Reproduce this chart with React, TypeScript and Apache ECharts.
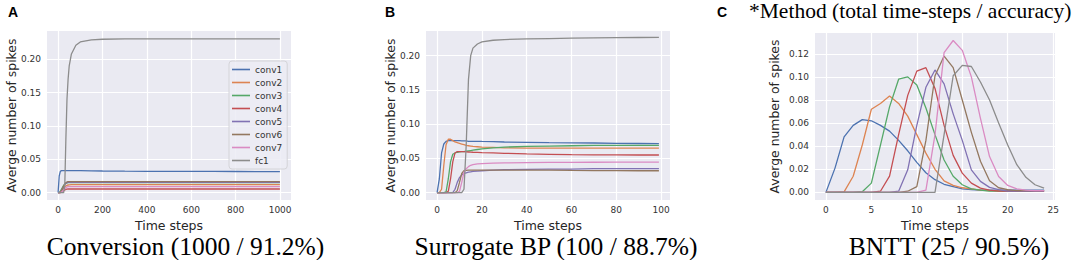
import React, { useEffect, useRef } from "react";
import * as echarts from "echarts";

// ---------- Data ----------
const seriesNames = ["conv1", "conv2", "conv3", "conv4", "conv5", "conv6", "conv7", "fc1"];
const colors = ["#4C72B0", "#DD8452", "#55A868", "#C44E52", "#8172B3", "#937860", "#DA8BC3", "#8C8C8C"];

// Panel A: Conversion (1000 time steps)
const timeA = [0, 5, 10, 15, 20, 25, 30, 35, 40, 45, 50, 60, 80, 100, 150, 200, 300, 400, 500, 600, 700, 800, 900, 999];
const conv1A = [0, 0.025, 0.032, 0.033, 0.033, 0.033, 0.033, 0.033, 0.033, 0.033, 0.033, 0.033, 0.033, 0.033, 0.0328, 0.0325, 0.0322, 0.032, 0.032, 0.0318, 0.0318, 0.0317, 0.0316, 0.0316];
const conv2A = [0, 0, 0.001, 0.003, 0.005, 0.007, 0.009, 0.010, 0.011, 0.0115, 0.0118, 0.012, 0.012, 0.012, 0.012, 0.012, 0.012, 0.012, 0.012, 0.012, 0.012, 0.012, 0.012, 0.012];
const conv3A = [0, 0, 0.002, 0.005, 0.008, 0.011, 0.013, 0.014, 0.0145, 0.015, 0.015, 0.015, 0.015, 0.015, 0.015, 0.015, 0.015, 0.015, 0.015, 0.015, 0.015, 0.015, 0.015, 0.015];
const conv4A = [0, 0, 0, 0.001, 0.002, 0.003, 0.004, 0.0048, 0.0052, 0.0055, 0.0055, 0.0055, 0.0055, 0.0055, 0.0055, 0.0055, 0.0055, 0.0055, 0.0055, 0.0055, 0.0055, 0.0055, 0.0055, 0.0055];
const conv5A = [0, 0, 0.001, 0.003, 0.006, 0.009, 0.012, 0.014, 0.015, 0.0155, 0.0155, 0.0155, 0.0155, 0.0155, 0.0155, 0.0155, 0.0155, 0.0155, 0.0155, 0.0155, 0.0155, 0.0155, 0.0155, 0.0155];
const conv6A = [0, 0, 0.001, 0.003, 0.006, 0.010, 0.013, 0.015, 0.016, 0.0165, 0.0165, 0.0165, 0.0165, 0.0165, 0.0165, 0.0165, 0.0165, 0.0165, 0.0165, 0.0165, 0.0165, 0.0165, 0.0165, 0.0165];
const conv7A = [0, 0, 0, 0.001, 0.002, 0.004, 0.006, 0.0075, 0.0085, 0.009, 0.009, 0.009, 0.009, 0.009, 0.009, 0.009, 0.009, 0.009, 0.009, 0.009, 0.009, 0.009, 0.009, 0.009];
const fc1A = [0, 0, 0, 0, 0, 0, 0.01, 0.08, 0.14, 0.17, 0.19, 0.208, 0.221, 0.226, 0.229, 0.230, 0.2305, 0.2305, 0.2305, 0.2305, 0.2305, 0.2305, 0.2305, 0.2305];

// Panel B: Surrogate BP (100 time steps)
const timeB = [0, 1, 2, 3, 4, 5, 6, 7, 8, 9, 10, 11, 12, 13, 14, 15, 16, 18, 20, 25, 30, 40, 50, 60, 70, 80, 90, 99];
const conv1B = [0, 0.02, 0.058, 0.071, 0.075, 0.076, 0.076, 0.076, 0.076, 0.076, 0.076, 0.0755, 0.0755, 0.0755, 0.075, 0.075, 0.075, 0.075, 0.0748, 0.0745, 0.074, 0.0735, 0.073, 0.0728, 0.0725, 0.072, 0.0718, 0.0715];
const conv2B = [0, 0, 0.005, 0.04, 0.07, 0.078, 0.078, 0.076, 0.074, 0.073, 0.072, 0.071, 0.07, 0.069, 0.0685, 0.068, 0.0675, 0.067, 0.0665, 0.066, 0.0655, 0.065, 0.065, 0.065, 0.065, 0.065, 0.065, 0.065];
const conv3B = [0, 0, 0, 0, 0.001, 0.02, 0.045, 0.056, 0.058, 0.059, 0.0595, 0.06, 0.06, 0.0605, 0.061, 0.0615, 0.062, 0.063, 0.064, 0.0655, 0.0665, 0.0675, 0.068, 0.0685, 0.069, 0.069, 0.069, 0.069];
const conv4B = [0, 0, 0, 0, 0, 0.002, 0.02, 0.045, 0.058, 0.06, 0.06, 0.06, 0.0598, 0.0596, 0.0594, 0.0592, 0.059, 0.0588, 0.0585, 0.058, 0.0575, 0.0565, 0.056, 0.0555, 0.0553, 0.0551, 0.055, 0.055];
const conv5B = [0, 0, 0, 0, 0, 0, 0, 0, 0.005, 0.015, 0.022, 0.026, 0.028, 0.029, 0.03, 0.0305, 0.031, 0.0315, 0.032, 0.033, 0.0335, 0.034, 0.0345, 0.0345, 0.035, 0.035, 0.035, 0.035];
const conv6B = [0, 0, 0, 0, 0, 0, 0, 0, 0, 0.003, 0.015, 0.028, 0.032, 0.0325, 0.033, 0.033, 0.033, 0.033, 0.033, 0.033, 0.033, 0.033, 0.0328, 0.0325, 0.0323, 0.0322, 0.032, 0.032];
const conv7B = [0, 0, 0, 0, 0, 0, 0, 0, 0, 0, 0.002, 0.015, 0.03, 0.035, 0.038, 0.04, 0.041, 0.042, 0.0425, 0.043, 0.0435, 0.044, 0.0442, 0.0443, 0.0444, 0.0445, 0.0445, 0.0445];
const fc1B = [0, 0, 0, 0, 0, 0, 0, 0, 0, 0, 0, 0, 0.005, 0.07, 0.165, 0.2, 0.211, 0.217, 0.22, 0.2225, 0.2235, 0.2245, 0.225, 0.2255, 0.226, 0.2262, 0.2265, 0.2268];

// Panel C: BNTT (25 time steps)
const timeC = [0, 1, 2, 3, 4, 5, 6, 7, 8, 9, 10, 11, 12, 13, 14, 15, 16, 17, 18, 19, 20, 21, 22, 23, 24];
const conv1C = [0, 0.021, 0.048, 0.058, 0.063, 0.062, 0.058, 0.053, 0.045, 0.036, 0.026, 0.017, 0.011, 0.007, 0.005, 0.003, 0.0025, 0.002, 0.002, 0.002, 0.002, 0.002, 0.002, 0.002, 0.002];
const conv2C = [0, 0, 0.0005, 0.014, 0.041, 0.072, 0.077, 0.0835, 0.077, 0.066, 0.05, 0.034, 0.02, 0.01, 0.006, 0.004, 0.003, 0.002, 0.0015, 0.0015, 0.001, 0.001, 0.001, 0.001, 0.001];
const conv3C = [0, 0, 0, 0, 0.0006, 0.008, 0.041, 0.074, 0.098, 0.1, 0.093, 0.073, 0.05, 0.028, 0.014, 0.0066, 0.003, 0.002, 0.001, 0.001, 0.001, 0.001, 0.001, 0.001, 0.001];
const conv4C = [0, 0, 0, 0, 0, 0, 0.001, 0.014, 0.05, 0.084, 0.105, 0.108, 0.09, 0.058, 0.032, 0.0167, 0.008, 0.0037, 0.002, 0.001, 0.001, 0.001, 0.001, 0.001, 0.001];
const conv5C = [0, 0, 0, 0, 0, 0, 0, 0, 0.001, 0.0195, 0.058, 0.091, 0.106, 0.094, 0.068, 0.045, 0.0195, 0.0095, 0.0043, 0.0023, 0.001, 0.001, 0.001, 0.001, 0.001];
const conv6C = [0, 0, 0, 0, 0, 0, 0, 0, 0, 0.001, 0.005, 0.045, 0.101, 0.118, 0.108, 0.08, 0.052, 0.027, 0.01, 0.004, 0.0023, 0.0015, 0.0015, 0.0015, 0.0015];
const conv7C = [0, 0, 0, 0, 0, 0, 0, 0, 0, 0, 0, 0.002, 0.05, 0.121, 0.1315, 0.123, 0.1, 0.064, 0.031, 0.0138, 0.006, 0.003, 0.002, 0.0015, 0.0015];
const fc1C = [0, 0, 0, 0, 0, 0, 0, 0, 0, 0, 0, 0, 0, 0.05, 0.101, 0.11, 0.109, 0.0956, 0.08, 0.06, 0.041, 0.024, 0.013, 0.0066, 0.0037];

// Tick labels
const xTicksA = [0, 200, 400, 600, 800, 1000];
const yTicksA = [0, 0.05, 0.1, 0.15, 0.2];
const xTicksB = [0, 20, 40, 60, 80, 100];
const yTicksB = [0, 0.05, 0.1, 0.15, 0.2];
const xTicksC = [0, 5, 10, 15, 20, 25];
const yTicksC = [0, 0.02, 0.04, 0.06, 0.08, 0.1, 0.12];

const captions = ["Conversion (1000 / 91.2%)", "Surrogate BP (100 / 88.7%)", "BNTT (25 / 90.5%)"];
const headerText = "*Method (total time-steps / accuracy)";
const panelLetters = ["A", "B", "C"];
const yName = "Averge number of spikes";
const xName = "Time steps";

const panelA = [conv1A, conv2A, conv3A, conv4A, conv5A, conv6A, conv7A, fc1A];
const panelB = [conv1B, conv2B, conv3B, conv4B, conv5B, conv6B, conv7B, fc1B];
const panelC = [conv1C, conv2C, conv3C, conv4C, conv5C, conv6C, conv7C, fc1C];

const SANS = "DejaVu Sans";
const SERIF = "Liberation Serif";

function makeX(idx: number, min: number, max: number, ticks: number[]) {
  return {
    type: "value",
    gridIndex: idx,
    min,
    max,
    name: xName,
    nameLocation: "middle",
    nameGap: 15,
    nameTextStyle: { fontFamily: SANS, fontSize: 12.5, lineHeight: 13, color: "#262626" },
    axisLine: { show: false },
    axisTick: { show: false, customValues: ticks },
    axisLabel: {
      customValues: ticks,
      fontFamily: SANS,
      fontSize: 9,
      color: "#333",
      margin: 5,
      formatter: (v: number) => String(v),
    },
    splitLine: { show: true, lineStyle: { color: "#ffffff", width: 1.2 } },
  };
}

function makeY(idx: number, min: number, max: number, ticks: number[], gap: number) {
  return {
    type: "value",
    gridIndex: idx,
    min,
    max,
    name: yName,
    nameLocation: "middle",
    nameGap: gap,
    nameTextStyle: { fontFamily: SANS, fontSize: 12.4, color: "#262626" },
    axisLine: { show: false },
    axisTick: { show: false, customValues: ticks },
    axisLabel: {
      customValues: ticks,
      fontFamily: SANS,
      fontSize: 9,
      color: "#333",
      margin: 6,
      formatter: (v: number) => v.toFixed(2),
    },
    splitLine: { show: true, lineStyle: { color: "#ffffff", width: 1.2 } },
  };
}

function buildSeries(panel: number[][], time: number[], idx: number) {
  return panel.map((vals, i) => ({
    name: seriesNames[i],
    type: "line",
    xAxisIndex: idx,
    yAxisIndex: idx,
    showSymbol: false,
    symbol: "none",
    color: colors[i],
    lineStyle: { width: 1.3, color: colors[i] },
    data: vals.map((v, j) => [time[j], v]),
    z: 2 + i,
  }));
}

export default function App() {
  const ref = useRef<HTMLDivElement>(null);
  useEffect(() => {
    document.body.style.margin = "0";
    if (!ref.current) return;
    const chart = echarts.init(ref.current, undefined, { renderer: "svg" });
    const gridBase = {
      show: true,
      backgroundColor: "#EAEAF2",
      borderWidth: 0,
      containLabel: false,
      outerBoundsMode: "none",
    };
    const caption = (text: string, x: number) => ({
      type: "text",
      x,
      y: 246,
      style: { text, fontFamily: SERIF, fontSize: 25.5, lineHeight: 24, fill: "#000", align: "center", verticalAlign: "middle" },
    });
    const letter = (text: string, x: number) => ({
      type: "text",
      x,
      y: 12,
      style: { text, fontFamily: "Liberation Sans", fontWeight: "bold", fontSize: 14, fill: "#000", align: "left", verticalAlign: "middle" },
    });
    chart.setOption({
      animation: false,
      backgroundColor: "#ffffff",
      grid: [
        { ...gridBase, left: 47, top: 31, width: 244, height: 169 },
        { ...gridBase, left: 426, top: 31, width: 244, height: 169 },
        { ...gridBase, left: 815, top: 33, width: 240, height: 167 },
      ],
      xAxis: [
        makeX(0, -50, 1049, xTicksA),
        makeX(1, -4.95, 103.95, xTicksB),
        makeX(2, -1.2, 25.2, xTicksC),
      ],
      yAxis: [
        makeY(0, -0.011, 0.2424, yTicksA, 30),
        makeY(1, -0.0107, 0.236, yTicksB, 30),
        makeY(2, -0.0066, 0.138, yTicksC, 35),
      ],
      legend: {
        data: seriesNames,
        orient: "vertical",
        left: 229,
        top: 61,
        icon: "rect",
        itemWidth: 18,
        itemHeight: 1.6,
        itemGap: 2,
        selectedMode: false,
        padding: [3, 5, 3, 3],
        backgroundColor: "rgba(236,236,244,0.85)",
        borderColor: "#d4d4d8",
        borderWidth: 1,
        borderRadius: 3,
        textStyle: { fontFamily: SANS, fontSize: 9, lineHeight: 11, color: "#333" },
      },
      series: [
        ...buildSeries(panelA, timeA, 0),
        ...buildSeries(panelB, timeB, 1),
        ...buildSeries(panelC, timeC, 2),
      ],
      graphic: [
        caption(captions[0], 185.5),
        caption(captions[1], 556),
        caption(captions[2], 949),
        {
          type: "text",
          x: 749,
          y: 10.5,
          style: { text: headerText, fontFamily: SERIF, fontSize: 21.5, fill: "#000", align: "left", verticalAlign: "middle" },
        },
        letter(panelLetters[0], 8),
        letter(panelLetters[1], 385),
        letter(panelLetters[2], 717),
      ],
    });
    return () => chart.dispose();
  }, []);
  return <div ref={ref} style={{ width: 1084, height: 260 }} />;
}
